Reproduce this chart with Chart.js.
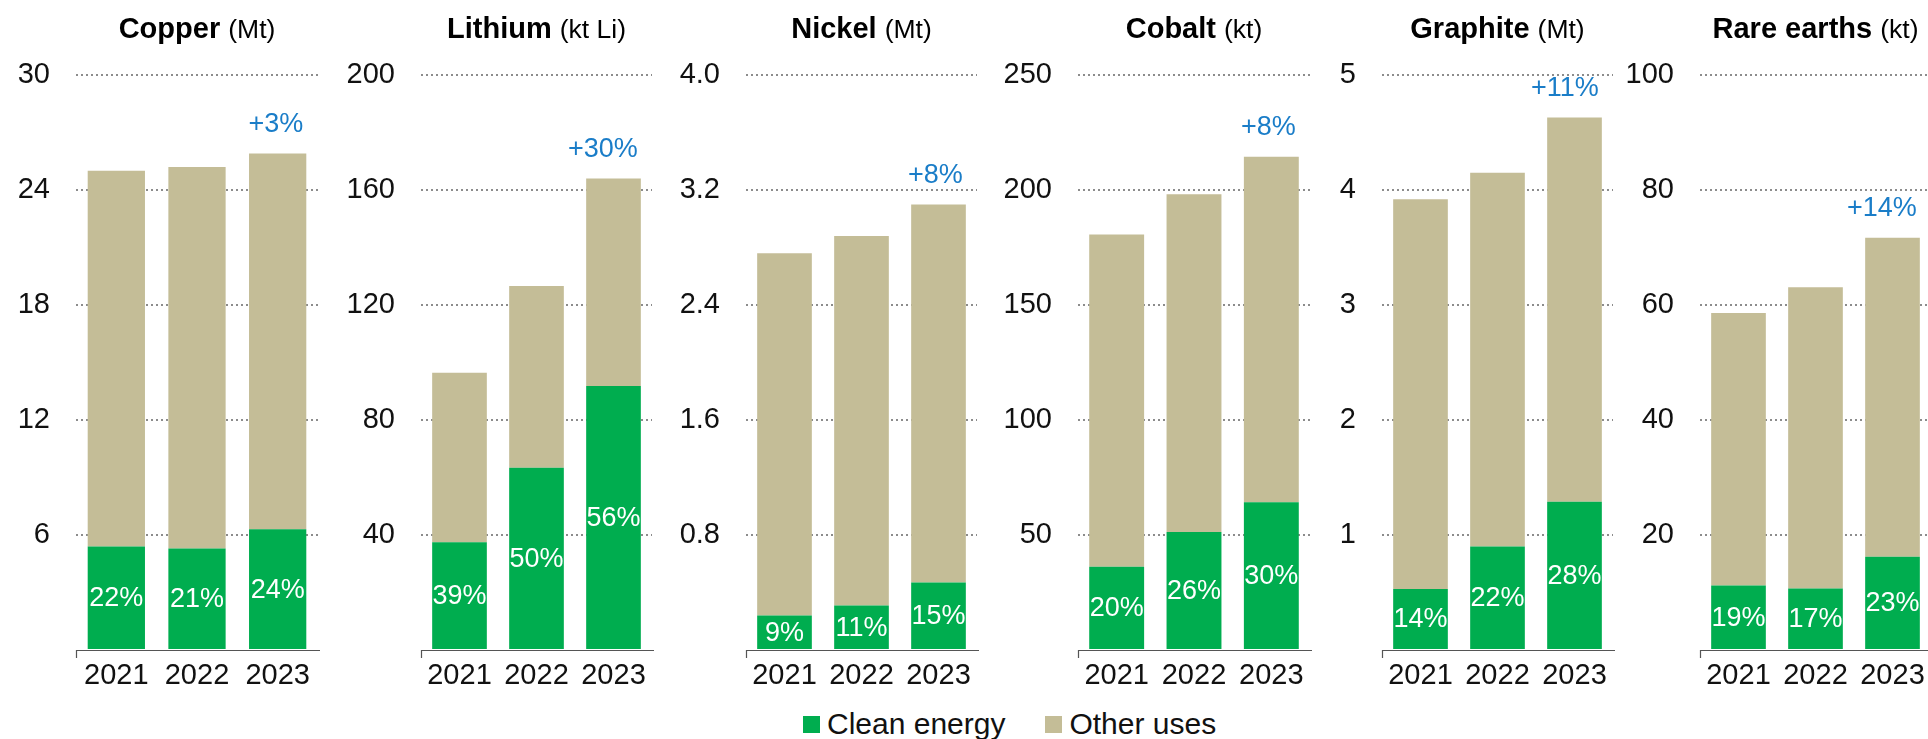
<!DOCTYPE html>
<html>
<head>
<meta charset="utf-8">
<script src="https://cdn.jsdelivr.net/npm/chart.js@4/dist/chart.umd.min.js"></script>
<style>
  html, body { margin: 0; padding: 0; background: #fff; overflow: hidden; }
  body { width: 1928px; height: 739px; position: relative; font-family: "Liberation Sans", Arial, sans-serif; }
  canvas { position: absolute; top: 0; }
  .legend { position: absolute; top: 707px; left: 803px; font-size: 30px; color: #111; white-space: nowrap; }
  .legend span.box { display: inline-block; width: 17px; height: 17px; vertical-align: 1px; margin-right: 7px; }
  .legend span.item { margin-right: 40px; }
</style>
</head>
<body>
<div class="legend">
  <span class="box" style="background:#00ad4f"></span><span class="item">Clean energy</span><span class="box" style="background:#c4bd97"></span><span>Other uses</span>
</div>
<script>
// data
const years = ['2021', '2022', '2023'];
const minerals = ['Copper', 'Lithium', 'Nickel', 'Cobalt', 'Graphite', 'Rare earths'];
const units = ['(Mt)', '(kt Li)', '(Mt)', '(kt)', '(Mt)', '(kt)'];

const copperClean = [5.4, 5.3, 6.3];
const copperOther = [19.6, 19.9, 19.6];
const lithiumClean = [37.5, 63.4, 91.8];
const lithiumOther = [58.9, 63.2, 72.2];
const nickelClean = [0.24, 0.31, 0.47];
const nickelOther = [2.52, 2.57, 2.63];
const cobaltClean = [36.2, 51.3, 64.2];
const cobaltOther = [144.5, 146.9, 150.3];
const graphiteClean = [0.53, 0.90, 1.29];
const graphiteOther = [3.39, 3.25, 3.34];
const rareClean = [11.2, 10.7, 16.2];
const rareOther = [47.4, 52.4, 55.5];

const copperShares = ['22%', '21%', '24%'];
const lithiumShares = ['39%', '50%', '56%'];
const nickelShares = ['9%', '11%', '15%'];
const cobaltShares = ['20%', '26%', '30%'];
const graphiteShares = ['14%', '22%', '28%'];
const rareShares = ['19%', '17%', '23%'];

const growthLabels = ['+3%', '+30%', '+8%', '+8%', '+11%', '+14%'];
const axisMax = [30, 200, 4, 250, 5, 100];
const axisStep = [6, 40, 0.8, 50, 1, 20];
const axisDecimals = [0, 0, 1, 0, 0, 0];

const cleanSeries = [copperClean, lithiumClean, nickelClean, cobaltClean, graphiteClean, rareClean];
const otherSeries = [copperOther, lithiumOther, nickelOther, cobaltOther, graphiteOther, rareOther];
const shareSeries = [copperShares, lithiumShares, nickelShares, cobaltShares, graphiteShares, rareShares];

// layout
const panelLeft = [0, 345, 670, 1002, 1306, 1624];
const plotWidth = [242, 231, 231, 232, 231, 231];
const yAxisWidth = 76;
const canvasHeight = 700;

const FONT = '"Liberation Sans", Arial, sans-serif';
const GREEN = '#00ad4f';
const TAN = '#c4bd97';
const BLUE = '#1a7dc8';

const panelText = {
    id: 'panelText',
    afterDraw(chart, args, opts) {
        const ctx = chart.ctx;
        const a = chart.chartArea;
        ctx.save();

        // title: bold name + regular unit
        ctx.textBaseline = 'alphabetic';
        ctx.fillStyle = '#000';
        ctx.font = 'bold 29px ' + FONT;
        const nameW = ctx.measureText(opts.name + ' ').width;
        ctx.font = '26.5px ' + FONT;
        const unitW = ctx.measureText(opts.unit).width;
        let tx = (a.left + a.right) / 2 - (nameW + unitW) / 2;
        ctx.textAlign = 'left';
        ctx.font = 'bold 29px ' + FONT;
        ctx.fillText(opts.name + ' ', tx, 37.5);
        ctx.font = '26.5px ' + FONT;
        ctx.fillText(opts.unit, tx + nameW, 37.5);

        // share labels in the green segments
        ctx.font = '27px ' + FONT;
        ctx.fillStyle = '#fff';
        ctx.textAlign = 'center';
        ctx.textBaseline = 'middle';
        chart.getDatasetMeta(0).data.forEach((bar, i) => {
            ctx.fillText(opts.shares[i], bar.x, (bar.y + bar.base) / 2 + 1);
        });

        // growth label over the last bar
        const top = chart.getDatasetMeta(1).data;
        const last = top[top.length - 1];
        ctx.fillStyle = BLUE;
        ctx.textAlign = 'right';
        ctx.fillText(opts.growth, last.x + last.width / 2 - 3, last.y - 29);

        // bottom axis with small tick at the left end
        ctx.strokeStyle = '#555';
        ctx.lineWidth = 1.2;
        ctx.beginPath();
        ctx.moveTo(a.left, a.bottom + 0.5);
        ctx.lineTo(a.right + 2, a.bottom + 0.5);
        ctx.moveTo(a.left + 0.5, a.bottom);
        ctx.lineTo(a.left + 0.5, a.bottom + 8);
        ctx.stroke();
        ctx.restore();
    }
};

minerals.forEach((name, p) => {
    const canvas = document.createElement('canvas');
    canvas.width = yAxisWidth + plotWidth[p] + 4;
    canvas.height = canvasHeight;
    canvas.style.left = panelLeft[p] + 'px';
    document.body.appendChild(canvas);

    new Chart(canvas.getContext('2d'), {
        type: 'bar',
        data: {
            labels: years,
            datasets: [{
                label: 'Clean energy',
                data: cleanSeries[p],
                backgroundColor: GREEN,
                barPercentage: 0.71,
                categoryPercentage: 1
            }, {
                label: 'Other uses',
                data: otherSeries[p],
                backgroundColor: TAN,
                barPercentage: 0.71,
                categoryPercentage: 1
            }]
        },
        options: {
            responsive: false,
            animation: false,
            layout: { padding: { top: 75, right: 4, bottom: 0, left: 0 } },
            scales: {
                x: {
                    stacked: true,
                    grid: { display: false, drawTicks: false },
                    border: { display: false },
                    ticks: { color: '#111', font: { family: FONT, size: 29 }, padding: 9, maxRotation: 0 },
                    afterFit: s => { s.height = canvasHeight - 650; }
                },
                y: {
                    stacked: true,
                    min: 0,
                    max: axisMax[p],
                    ticks: {
                        stepSize: axisStep[p],
                        color: '#111',
                        font: { family: FONT, size: 29 },
                        padding: 26,
                        callback: v => v === 0 ? '' : Number(v).toFixed(axisDecimals[p])
                    },
                    grid: {
                        drawTicks: false,
                        lineWidth: 2,
                        color: c => (c.tick && c.tick.value === 0) ? 'rgba(0,0,0,0)' : '#8c8c8c'
                    },
                    border: { display: false, dash: [2, 3] },
                    afterFit: s => { s.width = yAxisWidth; }
                }
            },
            plugins: {
                legend: { display: false },
                tooltip: { enabled: false },
                panelText: {
                    name: name,
                    unit: units[p],
                    shares: shareSeries[p],
                    growth: growthLabels[p]
                }
            }
        },
        plugins: [panelText]
    });
});
</script>
</body>
</html>
